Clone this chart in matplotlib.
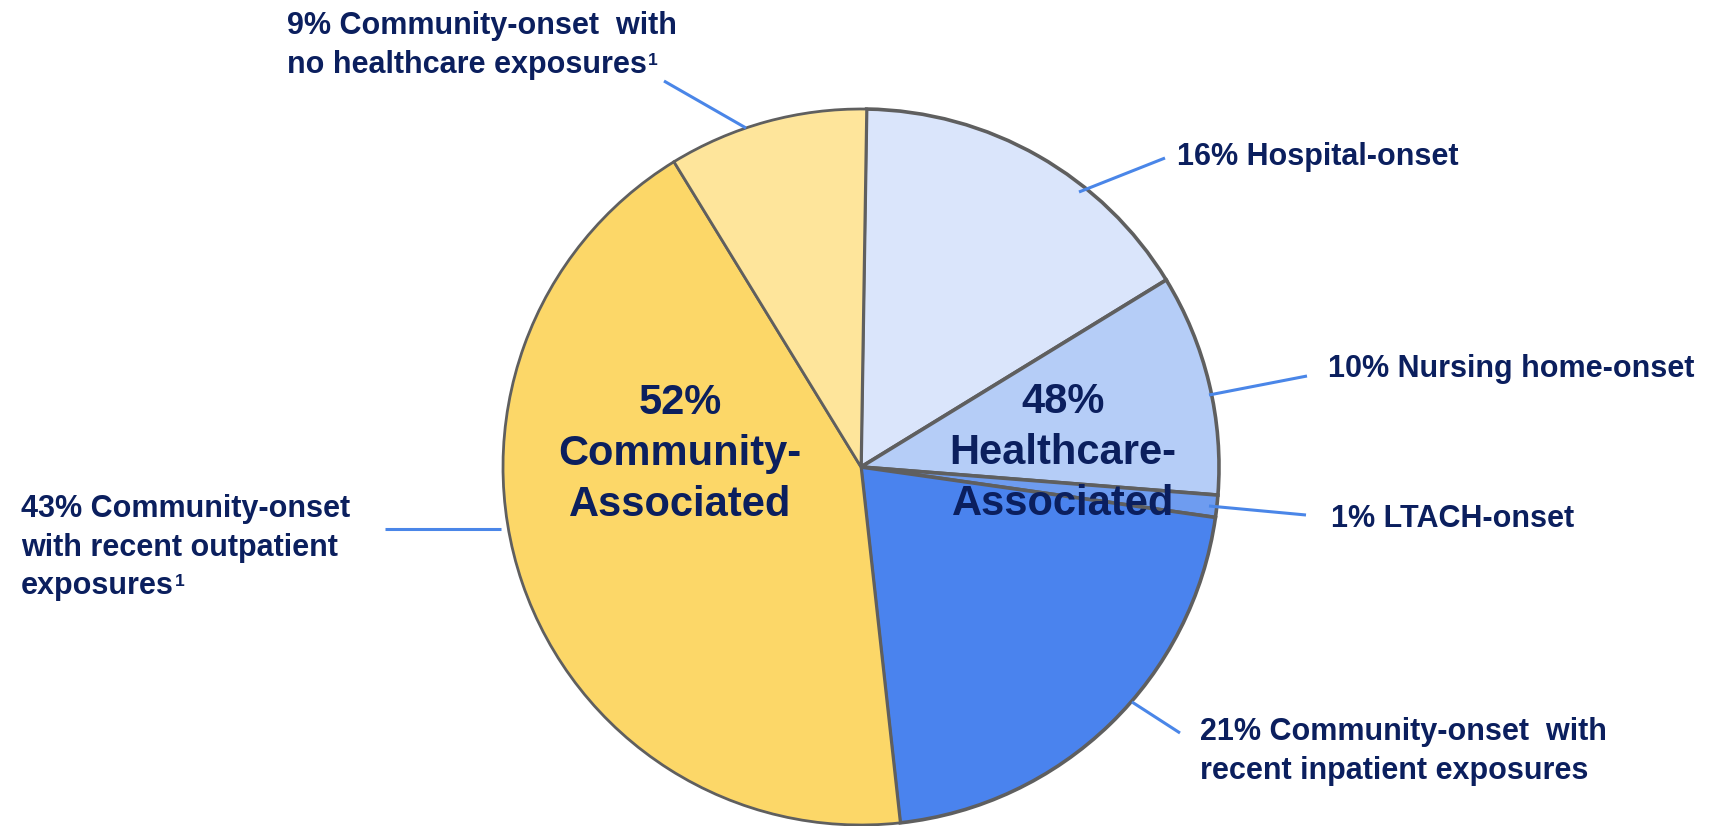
import matplotlib
matplotlib.use("Agg")
import matplotlib.pyplot as plt

plt.rcParams['font.family'] = ['Liberation Sans', 'DejaVu Sans']

# share of cases by epidemiologic class, clockwise from the top
shares = [16, 10, 1, 21, 43, 9]
colors = ['#DAE5FB', '#B5CDF7', '#6E9CF0', '#4A83EE', '#FCD768', '#FEE59B']
labels = [
    ['16% Hospital-onset'],
    ['10% Nursing home-onset'],
    ['1% LTACH-onset'],
    ['21% Community-onset  with', 'recent inpatient exposures'],
    ['43% Community-onset', 'with recent outpatient', 'exposures'],
    ['9% Community-onset  with', 'no healthcare exposures'],
]
# footnote marker on the last line of a label
footnoted = [False, False, False, False, True, True]
group_labels = [['52%', 'Community-', 'Associated'], ['48%', 'Healthcare-', 'Associated']]

W, H = 1719, 826
navy = '#0B1F5E'
leader_blue = '#4A86E8'
edge_grey = '#5F5F5F'

# layout in pixels from the top-left corner
pie_center = (861, 467)
pie_radius = 358
label_pos = [(1177, 165), (1328, 377), (1331, 527), (1200, 740), (21, 517), (287, 34)]
leaders = [
    ((1165, 158), (1079, 192)),
    ((1307, 376), (1209, 395)),
    ((1306, 515), (1209, 506)),
    ((1180, 733), (1132, 702)),
    ((385, 529), (501, 529)),
    ((664, 81), (746, 128)),
]
group_pos = [(680, 414), (1063, 413)]
line_step = 38.7
group_step = 51

fig = plt.figure(figsize=(W / 100, H / 100), dpi=100)
ax = fig.add_axes([0, 0, 1, 1])

wedges, _ = ax.pie(shares, colors=colors, startangle=89.1, counterclock=False,
                   center=(pie_center[0], H - pie_center[1]), radius=pie_radius,
                   wedgeprops=dict(edgecolor=edge_grey, linewidth=2.0))
# the healthcare-associated slices carry a heavier outline
for w in wedges[:4]:
    w.set_linewidth(2.6)

ax.set_xlim(0, W)
ax.set_ylim(0, H)
ax.set_aspect('equal')
ax.axis('off')

for (p0, p1) in leaders:
    ax.plot([p0[0], p1[0]], [H - p0[1], H - p1[1]], color=leader_blue, lw=2.2,
            solid_capstyle='butt')

renderer = fig.canvas.get_renderer()
for lines, (x, y), fn in zip(labels, label_pos, footnoted):
    for i, line in enumerate(lines):
        t = ax.text(x, H - (y + i * line_step), line, ha='left', va='baseline',
                    fontsize=22, fontweight='bold', color=navy)
    if fn:
        bb = t.get_window_extent(renderer)
        ax.text(bb.x1 + 1, H - (y + (len(lines) - 1) * line_step) + 8, '1',
                ha='left', va='baseline', fontsize=12.5, fontweight='bold', color=navy)

for lines, (x, y) in zip(group_labels, group_pos):
    for i, line in enumerate(lines):
        ax.text(x, H - (y + i * group_step), line, ha='center', va='baseline',
                fontsize=30, fontweight='bold', color=navy)

fig.savefig('out.png', dpi=100, facecolor='white')
